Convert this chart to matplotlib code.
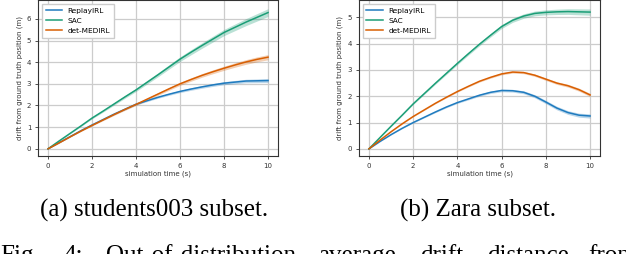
import numpy as np
import matplotlib.pyplot as plt

t = np.arange(0, 10.01, 0.5)

# students003 subset
stu_replay = [0, 0.28, 0.56, 0.84, 1.10, 1.35, 1.60, 1.83, 2.06, 2.22, 2.38,
              2.52, 2.65, 2.76, 2.86, 2.95, 3.03, 3.08, 3.13, 3.14, 3.15]
stu_sac = [0, 0.36, 0.71, 1.06, 1.42, 1.74, 2.07, 2.40, 2.72, 3.07, 3.42,
           3.78, 4.14, 4.46, 4.77, 5.07, 5.37, 5.61, 5.85, 6.07, 6.29]
stu_det = [0, 0.27, 0.55, 0.82, 1.08, 1.33, 1.58, 1.82, 2.05, 2.29, 2.53,
           2.77, 3.00, 3.20, 3.39, 3.56, 3.72, 3.87, 4.01, 4.13, 4.23]
stu_band = {'ReplayIRL': 0.09, 'SAC': 0.18, 'det-MEDIRL': 0.12}

# Zara subset
zara_replay = [0, 0.28, 0.54, 0.78, 1.00, 1.20, 1.40, 1.59, 1.76, 1.90, 2.04,
               2.15, 2.22, 2.21, 2.15, 2.00, 1.78, 1.55, 1.38, 1.28, 1.25]
zara_sac = [0, 0.43, 0.86, 1.28, 1.71, 2.10, 2.49, 2.87, 3.25, 3.62, 3.98,
            4.32, 4.65, 4.89, 5.05, 5.15, 5.19, 5.21, 5.22, 5.21, 5.20]
zara_det = [0, 0.33, 0.65, 0.95, 1.23, 1.48, 1.73, 1.96, 2.18, 2.38, 2.57,
            2.72, 2.85, 2.92, 2.90, 2.80, 2.65, 2.50, 2.40, 2.25, 2.05]
zara_band = {'ReplayIRL': 0.08, 'SAC': 0.12, 'det-MEDIRL': 0.06}

names = ['ReplayIRL', 'SAC', 'det-MEDIRL']
colors = ['#1f7bbf', '#1b9e77', '#d95f02']

# caption line (justified in the paper, cut off at the bottom)
fig_words = ['Fig.', '4:', 'Out-of-distribution', 'average', 'drift', 'distance', 'from']
fig_word_x = [0, 63, 106, 318, 420, 487, 588]

fig = plt.figure(figsize=(6.26, 2.54), dpi=100)
ax1 = fig.add_axes([0.061, 0.386, 0.383, 0.614])
ax2 = fig.add_axes([0.5735, 0.386, 0.385, 0.614])

def draw(ax, series, band, ylim, yticks):
    for name, y, c in zip(names, series, colors):
        y = np.array(y)
        w = band[name] * t / 10
        ax.fill_between(t, y - w, y + w, color=c, alpha=0.3, lw=0)
        ax.plot(t, y, color=c, lw=1.1, label=name)
    ax.set_xlim(-0.45, 10.45)
    ax.set_ylim(*ylim)
    ax.set_xticks([0, 2, 4, 6, 8, 10])
    ax.set_yticks(yticks)
    ax.grid(True, color='#cccccc', lw=0.9)
    ax.set_axisbelow(True)
    for s in ax.spines.values():
        s.set_color('#333333')
        s.set_linewidth(0.8)
    ax.tick_params(labelsize=5, length=2.5, width=0.6, color='#333333',
                   labelcolor='#333333', pad=2.5)
    ax.set_xlabel('simulation time (s)', fontsize=5, labelpad=1, color='#333333')
    ax.set_ylabel('drift from ground truth position (m)', fontsize=5,
                  labelpad=3, color='#333333')
    ax.legend(loc='upper left', fontsize=5.3, frameon=True, edgecolor='#cccccc',
              framealpha=1, borderpad=0.5, handlelength=2.2, labelspacing=0.55,
              fancybox=False)

draw(ax1, [stu_replay, stu_sac, stu_det], stu_band, (-0.33, 6.87), range(7))
draw(ax2, [zara_replay, zara_sac, zara_det], zara_band, (-0.27, 5.66), range(6))

W, H = 626, 254
cap = dict(fontsize=18, family='Liberation Serif', ha='center', va='baseline')
fig.text(154 / W, 0.146, '(a) students003 subset.', **cap)
fig.text(478 / W, 0.146, '(b) Zara subset.', **cap)
for word, x in zip(fig_words, fig_word_x):
    fig.text(x / W, -0.03, word, fontsize=18, family='Liberation Serif',
             ha='left', va='baseline')

fig.savefig('out.png', dpi=100)
